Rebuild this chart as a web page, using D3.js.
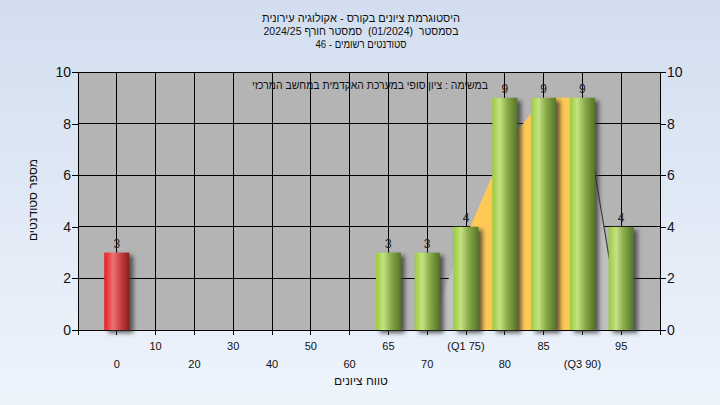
<!DOCTYPE html>
<html><head><meta charset="utf-8">
<script src="https://cdn.jsdelivr.net/npm/d3@7"></script>
<style>
html,body{margin:0;padding:0;}
svg{display:block;font-family:"Liberation Sans",Arial,sans-serif;}
text{white-space:pre;}
</style></head>
<body>
<svg id="chart" width="720" height="405"></svg>
<script>
// ---- data ----
const categories = ["0","10","20","30","40","50","60","65","70","75","80","85","90","95"];
const tickLabels = ["0","10","20","30","40","50","60","65","70","(Q1 75)","80","85","(Q3 90)","95"];
const counts = [3,0,0,0,0,0,0,3,3,4,9,9,9,4];
const failCategories = ["0"];
const curveCategories = ["70","75","80","85","90","95"];
const curveValues = [0,3.6,7.1,9,9,0];
const q1Category = "75";
const q3Category = "90";
const yTicks = [0,2,4,6,8,10];
const titleLines = ["היסטוגרמת ציונים בקורס - אקולוגיה עירונית","בסמסטר  (01/2024)  סמסטר חורף 2024/25","סטודנטים רשומים - 46"];
const noteText = "במשימה : ציון סופי במערכת האקדמית במחשב המרכזי";
const xTitle = "טווח ציונים";
const yTitle = "מספר סטודנטים";

const svg = d3.select("#chart");
const W = 720, H = 405;
const L = 78, R = 660, T = 72, B = 330;

const defs = svg.append("defs");
const bg = defs.append("linearGradient").attr("id","bg").attr("x1",0).attr("y1",0).attr("x2",0).attr("y2",1);
bg.append("stop").attr("offset","0%").attr("stop-color","#d2deef");
bg.append("stop").attr("offset","100%").attr("stop-color","#eef4fc");
const gG = defs.append("linearGradient").attr("id","gGreen").attr("x1",0).attr("y1",0).attr("x2",1).attr("y2",0);
[["0%","#9ccb3c"],["30%","#c4e283"],["60%","#8aaa4a"],["100%","#55742a"]].forEach(s=>gG.append("stop").attr("offset",s[0]).attr("stop-color",s[1]));
const gR = defs.append("linearGradient").attr("id","gRed").attr("x1",0).attr("y1",0).attr("x2",1).attr("y2",0);
[["0%","#e81c1c"],["35%","#f07272"],["65%","#c84040"],["100%","#8c1a1a"]].forEach(s=>gR.append("stop").attr("offset",s[0]).attr("stop-color",s[1]));
const blur = defs.append("filter").attr("id","blur").attr("x","-50%").attr("y","-50%").attr("width","200%").attr("height","200%");
blur.append("feGaussianBlur").attr("stdDeviation",2);

svg.append("rect").attr("width",W).attr("height",H).attr("fill","url(#bg)");

const x = d3.scaleLinear().domain([-1, categories.length]).range([L, R]);
const y = d3.scaleLinear().domain([0,10]).range([B, T]);
const xi = c => x(categories.indexOf(c));

// plot background
svg.append("rect").attr("x",L).attr("y",T).attr("width",R-L).attr("height",B-T).attr("fill","#b4b4b4");

// gridlines
const gridX = d3.range(-1, categories.length+1);
svg.append("g").selectAll("line").data(gridX).join("line")
  .attr("x1",d=>x(d)).attr("x2",d=>x(d)).attr("y1",T).attr("y2",B+5)
  .attr("stroke","#000").attr("stroke-width",1).attr("shape-rendering","crispEdges");
svg.append("g").selectAll("line").data(yTicks).join("line")
  .attr("x1",L).attr("x2",R).attr("y1",d=>y(d)).attr("y2",d=>y(d))
  .attr("stroke","#000").attr("stroke-width",1).attr("shape-rendering","crispEdges");

// distribution area (gray) and IQR (yellow)
const pts = curveCategories.map((c,i)=>[xi(c), curveValues[i]]);
const area = d3.area().x(d=>d[0]).y0(y(0)).y1(d=>y(d[1]));
svg.append("path").attr("d",area(pts)).attr("fill","#c0c0c0");
defs.append("clipPath").attr("id","iqr").append("rect")
  .attr("x",xi(q1Category)).attr("y",T).attr("width",xi(q3Category)-xi(q1Category)).attr("height",B-T);
svg.append("path").attr("d",area(pts)).attr("fill","#ffc955").attr("clip-path","url(#iqr)");
const lastSeg = pts.slice(-2);
svg.append("path").attr("d",d3.line().x(d=>d[0]).y(d=>y(d[1]))(lastSeg))
  .attr("fill","none").attr("stroke","#404040").attr("stroke-width",1.2);

// axes
const axisG = svg.append("g");
axisG.append("line").attr("x1",L).attr("x2",L).attr("y1",T).attr("y2",B+5).attr("stroke","#000").attr("shape-rendering","crispEdges");
axisG.append("line").attr("x1",R).attr("x2",R).attr("y1",T).attr("y2",B+5).attr("stroke","#000").attr("shape-rendering","crispEdges");
const leftAxis = d3.axisLeft(y).tickValues(yTicks).tickSize(6).tickFormat(d3.format("d"));
const rightAxis = d3.axisRight(y).tickValues(yTicks).tickSize(6).tickFormat(d3.format("d"));
const la = svg.append("g").attr("transform",`translate(${L},0)`).call(leftAxis);
const ra = svg.append("g").attr("transform",`translate(${R},0)`).call(rightAxis);
[la,ra].forEach(a=>{
  a.select(".domain").remove();
  a.selectAll("line").attr("stroke","#000").attr("shape-rendering","crispEdges");
  a.selectAll("text").attr("font-size",14).attr("fill","#111").attr("font-family","Liberation Sans, Arial, sans-serif");
});
la.selectAll("text").attr("x",-7);
ra.selectAll("text").attr("x",7);

// bars
const bw = 25;
const barData = categories.map((c,i)=>({c, v:counts[i]})).filter(d=>d.v>0);
const bars = svg.append("g");
bars.selectAll("rect.sh").data(barData).join("rect").attr("class","sh")
  .attr("x",d=>xi(d.c)-bw/2+4).attr("y",d=>y(d.v)+3).attr("width",bw).attr("height",d=>y(0)-y(d.v))
  .attr("fill","#303030").attr("opacity",0.75).attr("filter","url(#blur)");
bars.selectAll("rect.b").data(barData).join("rect").attr("class","b")
  .attr("x",d=>xi(d.c)-bw/2).attr("y",d=>y(d.v)).attr("width",bw).attr("height",d=>y(0)-y(d.v))
  .attr("fill",d=>failCategories.includes(d.c)?"url(#gRed)":"url(#gGreen)");
bars.selectAll("text").data(barData).join("text")
  .attr("x",d=>xi(d.c)).attr("y",d=>y(d.v)-5).attr("text-anchor","middle")
  .attr("font-size",12).attr("fill","#222").text(d=>d.v);

// x tick labels (staggered)
svg.append("g").selectAll("text").data(categories).join("text")
  .attr("x",d=>xi(d)).attr("y",(d,i)=> i%2===1 ? 350 : 368)
  .attr("text-anchor","middle").attr("font-size",11).attr("fill","#111")
  .text((d,i)=>tickLabels[i]);

// titles
const titleWidths = [198,195,91];
svg.append("g").selectAll("text").data(titleLines).join("text")
  .attr("x",361).attr("y",(d,i)=>22+i*13).attr("text-anchor","middle")
  .attr("font-size",11.5).attr("fill","#111")
  .attr("textLength",(d,i)=>titleWidths[i]).attr("lengthAdjust","spacingAndGlyphs").text(d=>d);
svg.append("text").attr("x",370).attr("y",89).attr("text-anchor","middle")
  .attr("font-size",11).attr("fill","#111")
  .attr("textLength",236).attr("lengthAdjust","spacingAndGlyphs").text(noteText);
svg.append("text").attr("x",361).attr("y",385).attr("text-anchor","middle")
  .attr("font-size",12).attr("fill","#111").text(xTitle);
svg.append("text").attr("transform","translate(37,200) rotate(-90)").attr("text-anchor","middle")
  .attr("font-size",12).attr("fill","#111").text(yTitle);
</script>
</body></html>
